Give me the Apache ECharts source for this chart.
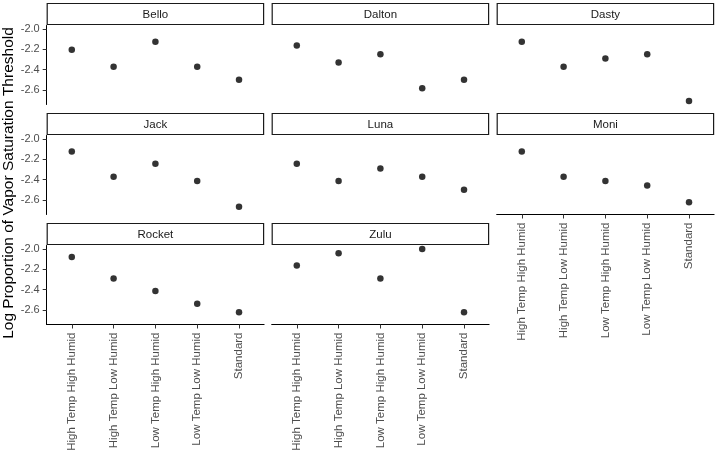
<!DOCTYPE html>
<html>
<head>
<meta charset="utf-8">
<script src="https://cdn.jsdelivr.net/npm/echarts@6/dist/echarts.min.js"></script>
<style>
html,body{margin:0;padding:0;background:#fff;}
#chart{width:716px;height:455px;}
</style>
</head>
<body>
<div id="chart"></div>
<script>
const categories = ['High Temp High Humid', 'High Temp Low Humid', 'Low Temp High Humid', 'Low Temp Low Humid', 'Standard'];
const panelNames = ['Bello', 'Dalton', 'Dasty', 'Jack', 'Luna', 'Moni', 'Rocket', 'Zulu'];
const bello  = [-2.204, -2.373, -2.125, -2.373, -2.502];
const dalton = [-2.162, -2.330, -2.248, -2.584, -2.502];
const dasty  = [-2.125, -2.373, -2.290, -2.248, -2.710];
const jack   = [-2.122, -2.373, -2.245, -2.414, -2.668];
const luna   = [-2.245, -2.414, -2.290, -2.373, -2.502];
const moni   = [-2.122, -2.373, -2.414, -2.459, -2.624];
const rocket = [-2.079, -2.290, -2.414, -2.541, -2.624];
const zulu   = [-2.162, -2.041, -2.290, -2.000, -2.624];
const yTicks = [-2.0, -2.2, -2.4, -2.6];
const yTitle = 'Log Proportion of Vapor Saturation Threshold';

const panelValues = [bello, dalton, dasty, jack, luna, moni, rocket, zulu];

const allVals = panelValues.flat();
const dMin = Math.min(...allVals), dMax = Math.max(...allVals);
const pad = (dMax - dMin) * 0.05;
const yMin = dMin - pad, yMax = dMax + pad;

const colStep = 225, rowStep = 110;
const left0 = 46.7, top0 = 25.5, gw = 217.4, gh = 79;
const stripTop0 = 3.5, stripH = 21;
const FONT = '"Liberation Sans", Arial, Helvetica, sans-serif';

const grids = [], xAxes = [], yAxes = [], series = [], graphics = [];

panelNames.forEach((name, k) => {
  const row = Math.floor(k / 3), col = k % 3;
  const showY = col === 0;
  const showX = row === 2 || k === 5;
  const left = left0 + col * colStep;
  const top = top0 + row * rowStep;
  grids.push({ left: left, top: top, width: gw, height: gh, containLabel: false });
  xAxes.push({
    type: 'value', gridIndex: k, min: -0.6, max: 4.6,
    splitLine: { show: false },
    axisLine: { show: showX, onZero: false, lineStyle: { color: '#000', width: 1 } },
    axisTick: { show: showX, length: 4, customValues: [0, 1, 2, 3, 4], lineStyle: { color: '#333', width: 1 } },
    axisLabel: {
      show: showX, customValues: [0, 1, 2, 3, 4], rotate: 90, margin: 8,
      color: '#4D4D4D', fontSize: 11.5, fontFamily: FONT,
      formatter: v => categories[Math.round(v)] || ''
    }
  });
  yAxes.push({
    type: 'value', gridIndex: k, min: yMin, max: yMax,
    splitLine: { show: false },
    axisLine: { show: showY, onZero: false, lineStyle: { color: '#000', width: 1 } },
    axisTick: { show: showY, length: 4, customValues: yTicks, lineStyle: { color: '#333', width: 1 } },
    axisLabel: {
      show: showY, customValues: yTicks, margin: 7,
      color: '#4D4D4D', fontSize: 11, fontFamily: FONT,
      formatter: v => v.toFixed(1)
    }
  });
  series.push({
    type: 'scatter', xAxisIndex: k, yAxisIndex: k,
    symbol: 'circle', symbolSize: 6.5,
    itemStyle: { color: '#000' },
    data: panelValues[k].map((v, i) => [i, v])
  });
  graphics.push({
    type: 'rect',
    shape: { x: left + 0.5, y: stripTop0 + row * rowStep, width: gw - 1, height: stripH },
    style: { fill: '#fff', stroke: '#1a1a1a', lineWidth: 1.2 }
  });
  graphics.push({
    type: 'text',
    x: left + gw / 2, y: stripTop0 + row * rowStep + stripH / 2 + 0.5,
    style: { text: name, fill: '#1A1A1A', font: '11.5px ' + FONT, align: 'center', verticalAlign: 'middle' }
  });
});

graphics.push({
  type: 'text',
  x: 9, y: 183, rotation: Math.PI / 2,
  style: { text: yTitle, fill: '#000', font: '15.5px ' + FONT, align: 'center', verticalAlign: 'middle' }
});

const chart = echarts.init(document.getElementById('chart'), null, { renderer: 'canvas' });
chart.setOption({
  animation: false,
  backgroundColor: '#fff',
  grid: grids, xAxis: xAxes, yAxis: yAxes, series: series,
  graphic: graphics
});
</script>
</body>
</html>
